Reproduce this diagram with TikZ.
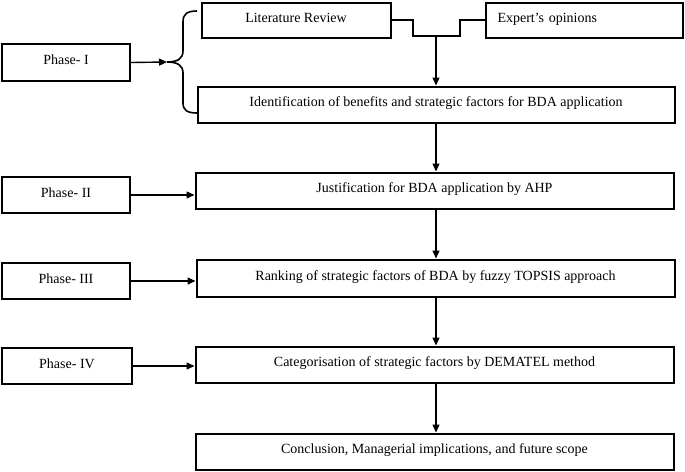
\documentclass[tikz,border=0pt]{standalone}
\usepackage{fontspec}
\setmainfont{Liberation Serif}
\usetikzlibrary{arrows.meta}
\tikzset{
  box/.style={draw, line width=2pt, rectangle, inner sep=3pt, text height=9.5pt, text depth=5pt, font=\fontsize{14}{16}\selectfont},
  conn/.style={line width=1.4pt},
  arr/.style={conn, -{Triangle[length=8pt,width=7pt]}},
}
\begin{document}
\begin{tikzpicture}[x=1pt,y=-1pt]
\useasboundingbox (0,0) rectangle (685,471);
% phase boxes
\node[box, minimum width=128pt, minimum height=37pt] (p1) at (66,62.5) {Phase- I};
\node[box, minimum width=128pt, minimum height=36pt] (p2) at (66,195) {Phase- II};
\node[box, minimum width=128pt, minimum height=36pt] (p3) at (66,281) {Phase- III};
\node[box, minimum width=130pt, minimum height=36pt] (p4) at (67,366) {Phase- IV};
% main boxes
\node[box, minimum width=189pt, minimum height=35pt] (lr) at (296,20) {Literature Review};
\node[box, minimum height=35pt, inner xsep=12pt, text width=173pt, align=left] (ex) at (584,20) {Expert’s opinions};
\node[box, minimum width=477pt, minimum height=36pt] (id) at (436,104.5) {Identification of benefits and strategic factors for BDA application};
\node[box, minimum width=478pt, minimum height=36pt] (ju) at (434.5,190.5) {Justification for BDA application by AHP};
\node[box, minimum width=478pt, minimum height=37pt] (ra) at (435.5,278) {Ranking of strategic factors of BDA by fuzzy TOPSIS approach};
\node[box, minimum width=478pt, minimum height=36pt] (ca) at (434.5,364.5) {Categorisation of strategic factors by DEMATEL method};
\node[box, minimum width=478pt, minimum height=36pt] (co) at (434.5,451.5) {Conclusion, Managerial implications, and future scope};
% brace
\coordinate (bt) at (167,62);
\draw[line width=1.6pt] (197,11) .. controls (187,11) and (183,14) .. (183,22) -- (183,51)
  .. controls (183,59) and (177,62) .. (bt)
  .. controls (177,62) and (183,65) .. (183,73) -- (183,103)
  .. controls (183,110) and (187,113) .. (197,113);
\draw[arr] (p1.east) -- (bt);
% merge connector
\coordinate (j1) at (413,20);
\coordinate (j2) at (413,36);
\coordinate (jm) at (436,36);
\coordinate (j3) at (460,36);
\coordinate (j4) at (460,20);
\draw[conn] (lr.east) -- (j1) -- (j2) -- (j3) -- (j4) -- (ex.west);
\draw[arr] (jm) -- (jm |- id.north);
% vertical flow
\draw[arr] (id.south -| jm) -- (ju.north -| jm);
\draw[arr] (ju.south -| jm) -- (ra.north -| jm);
\draw[arr] (ra.south -| jm) -- (ca.north -| jm);
\draw[arr] (ca.south -| jm) -- (co.north -| jm);
% phase arrows
\draw[arr] (p2.east) -- (p2.east -| ju.west);
\draw[arr] (p3.east) -- (p3.east -| ra.west);
\draw[arr] (p4.east) -- (p4.east -| ca.west);
\end{tikzpicture}
\end{document}
